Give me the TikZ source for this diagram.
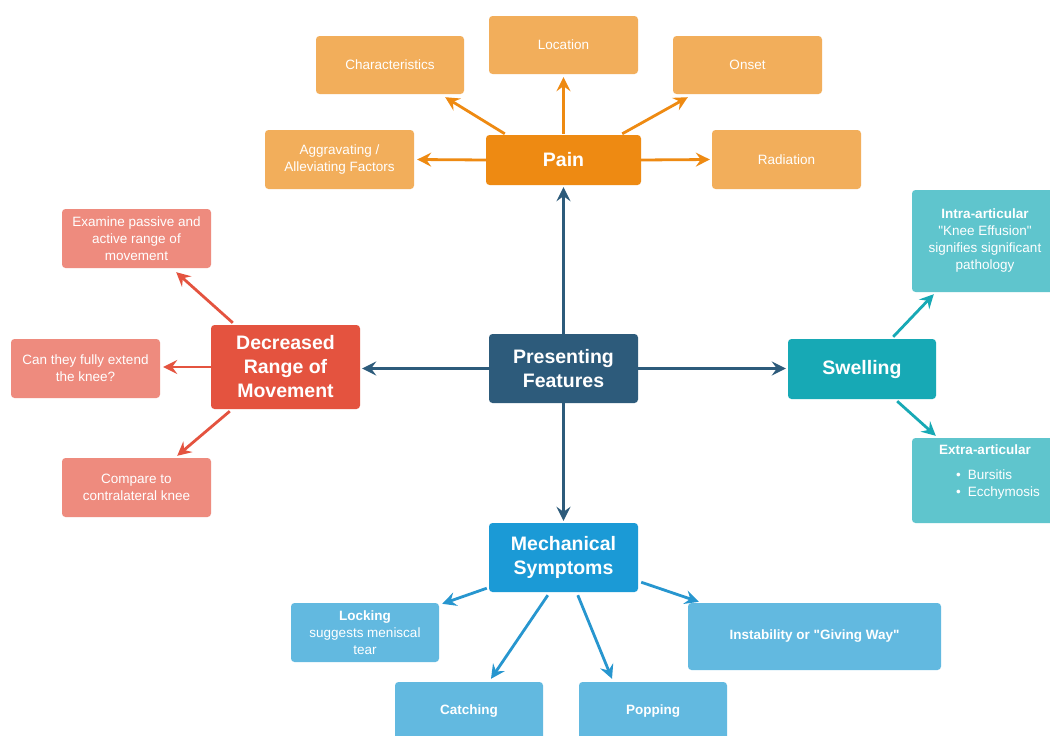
\documentclass[tikz,border=0pt]{standalone}
\usepackage{fontspec}
\setmainfont{Liberation Sans}
\usetikzlibrary{arrows.meta,calc}
\definecolor{pfc}{HTML}{2D5B7B}
\definecolor{painc}{HTML}{EE8A12}
\definecolor{painl}{HTML}{F2AE5B}
\definecolor{drmc}{HTML}{E4533F}
\definecolor{drml}{HTML}{EE8B7E}
\definecolor{swc}{HTML}{17A9B5}
\definecolor{swl}{HTML}{5FC5CD}
\definecolor{mechc}{HTML}{1B9AD6}
\definecolor{mecha}{HTML}{2796CF}
\definecolor{mechl}{HTML}{62B9E0}
\tikzset{
  box/.style={rectangle, rounded corners=3.5pt, text=white, align=center, inner sep=0pt},
  mainbox/.style={box, font=\fontsize{19.5}{24}\selectfont\bfseries, minimum width=149pt},
  leaf/.style={box, font=\fontsize{13.5}{17}\selectfont, minimum width=149pt, minimum height=59pt},
  txt/.style={text=white, align=center, inner sep=0pt, font=\fontsize{13.5}{17}\selectfont},
  conn/.style={line width=2.8pt, -{Stealth[length=14pt,width=14pt,inset=5pt]}},
}
\begin{document}
\begin{tikzpicture}[x=1pt,y=-1pt]
\path[use as bounding box] (0,0) rectangle (1050,736);
\clip (0,0) rectangle (1050,736);
\fill[white] (0,0) rectangle (1050,736);

% centre
\node[mainbox, fill=pfc, minimum height=69pt] (pf) at (563.5,368.5) {Presenting\\Features};

% pain
\node[mainbox, fill=painc, minimum width=155pt, minimum height=50pt] (pain) at (563.5,160) {Pain};
\node[leaf, fill=painl, minimum width=148pt, minimum height=58pt] (char) at (390,65) {Characteristics};
\node[leaf, fill=painl, minimum height=58pt] (loc) at (563.5,45) {Location};
\node[leaf, fill=painl, minimum height=58pt] (onset) at (747.5,65) {Onset};
\node[leaf, fill=painl] (agg) at (339.5,159.5) {Aggravating /\\Alleviating Factors};
\node[leaf, fill=painl] (rad) at (786.5,159.5) {Radiation};

% decreased range of movement
\node[mainbox, fill=drmc, minimum height=84pt] (drm) at (285.5,367) {Decreased\\Range of\\Movement};
\node[leaf, fill=drml] (exam) at (136.5,238.5) {Examine passive and\\active range of\\movement};
\node[leaf, fill=drml] (can) at (85.5,368.5) {Can they fully extend\\the knee?};
\node[leaf, fill=drml] (comp) at (136.5,487.5) {Compare to\\contralateral knee};

% swelling
\node[mainbox, fill=swc, minimum width=148pt, minimum height=60pt] (swell) at (862,369) {\raisebox{-2pt}{Swelling}};
\node[leaf, fill=swl, minimum width=146pt, minimum height=102pt] (intra) at (985,241) {\textbf{Intra-articular}\\\textquotedbl Knee Effusion\textquotedbl\\signifies significant\\pathology};
\node[leaf, fill=swl, minimum width=146pt, minimum height=85pt] (extra) at (985,480.5) {};
\node[txt] (extratxt) at ($(extra.center)+(0,-7)$) {\textbf{Extra-articular}\\[12pt]\hspace*{26pt}\begin{tabular}{@{}l@{}}\textbullet\hspace{7pt}Bursitis\\\textbullet\hspace{7pt}Ecchymosis\end{tabular}};

% mechanical symptoms
\node[mainbox, fill=mechc, minimum height=69pt] (mech) at (563.5,557.5) {Mechanical\\Symptoms};
\node[leaf, fill=mechl, minimum width=148pt] (lock) at (365,632.5) {\textbf{Locking}\\suggests meniscal\\tear};
\node[leaf, fill=mechl, minimum width=148pt, minimum height=58pt, font=\fontsize{13.5}{17}\selectfont\bfseries] (catch) at (469,711) {Catching};
\node[leaf, fill=mechl, minimum width=148pt, minimum height=58pt, font=\fontsize{13.5}{17}\selectfont\bfseries] (pop) at (653,711) {Popping};
\node[leaf, fill=mechl, minimum width=253pt, minimum height=67pt, font=\fontsize{13.5}{17}\selectfont\bfseries] (instab) at (814.5,636.5) {Instability or \textquotedbl Giving Way\textquotedbl};

% connectors from centre
\draw[conn, pfc] (pf.north) -- ($(pain.south)+(0,2)$);
\draw[conn, pfc] (pf.west) -- ($(pf.west -| drm.east)+(2,0)$);
\draw[conn, pfc] (pf.east) -- ($(pf.east -| swell.west)+(-2,0)$);
\draw[conn, pfc] (pf.south) -- ($(mech.north)+(0,-2)$);

% pain connectors
\draw[conn, painc] ($(pain.north west)+(19,-1)$) -- ($(char.south east)+(-19,3)$);
\draw[conn, painc] ($(pain.north)+(0,-1)$) -- ($(loc.south)+(0,3)$);
\draw[conn, painc] ($(pain.north east)+(-19,-1)$) -- ($(onset.south west)+(15,3)$);
\draw[conn, painc] (pain.west) -- ($(agg.east)+(3,0)$);
\draw[conn, painc] (pain.east) -- ($(rad.west)+(-2,0)$);

% decreased range connectors
\draw[conn, drmc] ($(drm.north west)+(22,-2)$) -- ($(exam.south east)+(-35,4)$);
\draw[conn, drmc] (drm.west) -- ($(drm.west -| can.east)+(3,0)$);
\draw[conn, drmc] ($(drm.south west)+(19,2)$) -- ($(comp.north east)+(-34,-2)$);

% swelling connectors
\draw[conn, swc] ($(swell.north east)+(-43,-2)$) -- ($(intra.south west)+(22,2)$);
\draw[conn, swc] ($(swell.south east)+(-39,2)$) -- ($(extra.north west)+(24,-2)$);

% mechanical connectors
\draw[conn, mecha] ($(mech.south west)+(-2,-4)$) -- ($(lock.north east)+(3,1)$);
\draw[conn, mecha] ($(mech.south west)+(59,3)$) -- ($(catch.north)+(22,-3)$);
\draw[conn, mecha] ($(mech.south west)+(89,3)$) -- ($(pop.north)+(-41,-3)$);
\draw[conn, mecha] ($(mech.south east)+(3,-10)$) -- ($(instab.north west)+(11,-1)$);
\end{tikzpicture}
\end{document}
